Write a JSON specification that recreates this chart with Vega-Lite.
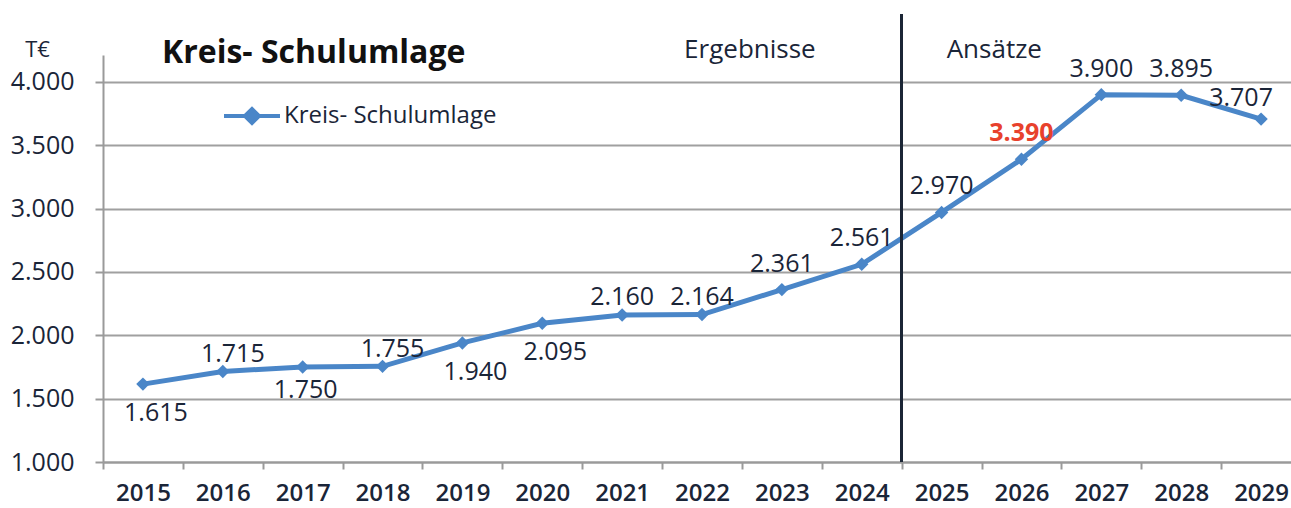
{
  "$schema": "https://vega.github.io/schema/vega-lite/v6.json",
  "width": 1188,
  "height": 407,
  "autosize": {"type": "none"},
  "padding": {"left": 103, "top": 55, "right": 0, "bottom": 46},
  "background": "white",
  "config": {
    "locale": {"number": {"decimal": ",", "thousands": ".", "grouping": [3], "currency": ["", " €"]}},
    "view": {"stroke": null},
    "font": "Open Sans"
  },
  "title": {"text": "Kreis- Schulumlage", "anchor": "start", "frame": "group", "orient": "top", "fontSize": 32, "fontWeight": "bold", "font": "Open Sans", "color": "#111111", "dx": 59, "dy": 72, "baseline": "middle", "offset": 0},
  "data": {"values": [
    {"year": 2015, "value": 1615},
    {"year": 2016, "value": 1715},
    {"year": 2017, "value": 1750},
    {"year": 2018, "value": 1755},
    {"year": 2019, "value": 1940},
    {"year": 2020, "value": 2095},
    {"year": 2021, "value": 2160},
    {"year": 2022, "value": 2164},
    {"year": 2023, "value": 2361},
    {"year": 2024, "value": 2561},
    {"year": 2025, "value": 2970},
    {"year": 2026, "value": 3390},
    {"year": 2027, "value": 3900},
    {"year": 2028, "value": 3895},
    {"year": 2029, "value": 3707}
  ]},
  "layer": [
    {
      "mark": {"type": "line", "strokeWidth": 5, "point": {"shape": "diamond", "size": 180, "filled": true}},
      "encoding": {
        "x": {"field": "year", "type": "ordinal",
          "scale": {"type": "band", "paddingInner": 0, "paddingOuter": 0, "range": [0, 1198]},
          "axis": {"title": null, "tickBand": "extent", "labelAngle": 0, "domainColor": "#9a9a9a", "domainWidth": 2, "tickColor": "#9a9a9a", "tickWidth": 2, "tickSize": 7, "labelFontSize": 24, "labelFontWeight": 600, "labelColor": "#1a2538", "labelPadding": 12, "labelFont": "Open Sans", "grid": false}},
        "y": {"field": "value", "type": "quantitative",
          "scale": {"domain": [1000, 4213], "nice": false, "zero": false},
          "axis": {"values": [1000, 1500, 2000, 2500, 3000, 3500, 4000], "format": ",.0f", "title": "T€", "titleAngle": 0, "titleX": -66, "titleY": -6, "titleFontSize": 22, "titleFontWeight": "normal", "titleColor": "#1a2538", "titleFont": "Open Sans", "titleAlign": "center", "titleBaseline": "middle", "grid": true, "gridColor": "#a0a0a0", "gridWidth": 2, "domainColor": "#9a9a9a", "domainWidth": 2, "tickColor": "#9a9a9a", "tickWidth": 2, "tickSize": 8, "labelFontSize": 25, "labelPadding": 21, "labelColor": "#1a2538", "labelFont": "Open Sans"}},
        "color": {"datum": "Kreis- Schulumlage", "type": "nominal", "scale": {"range": ["#4a86c8"]},
          "legend": {"title": null, "orient": "none", "legendX": 119, "legendY": 31, "padding": 0, "symbolType": "M-1,0H1M-0.25,0L0,-0.25L0.25,0L0,0.25Z", "symbolSize": 3136, "symbolStrokeWidth": 4, "symbolStrokeColor": "#4a86c8", "symbolFillColor": "#4a86c8", "labelFontSize": 24, "labelFont": "Open Sans", "labelColor": "#1a2538", "labelOffset": 2, "labelLimit": 400}}
      }
    },
    {
      "mark": {"type": "rule", "color": "#1c2636", "strokeWidth": 2.5},
      "encoding": {"x": {"datum": 2025, "type": "ordinal", "bandPosition": 0}, "y": {"datum": 1000, "type": "quantitative"}, "y2": {"datum": 4536}}
    },
    {
      "transform": [{"filter": {"field": "year", "oneOf": [2015, 2019, 2020]}}],
      "mark": {"type": "text", "fontSize": 25, "color": "#1a2538", "dx": 13, "dy": 29, "baseline": "middle"},
      "encoding": {"x": {"field": "year", "type": "ordinal"}, "y": {"field": "value", "type": "quantitative"}, "text": {"field": "value", "type": "quantitative", "format": ",.0f"}}
    },
    {
      "transform": [{"filter": {"field": "year", "oneOf": [2017]}}],
      "mark": {"type": "text", "fontSize": 25, "color": "#1a2538", "dx": 3, "dy": 23, "baseline": "middle"},
      "encoding": {"x": {"field": "year", "type": "ordinal"}, "y": {"field": "value", "type": "quantitative"}, "text": {"field": "value", "type": "quantitative", "format": ",.0f"}}
    },
    {
      "transform": [{"filter": {"field": "year", "oneOf": [2016, 2018]}}],
      "mark": {"type": "text", "fontSize": 25, "color": "#1a2538", "dx": 10, "dy": -17, "baseline": "middle"},
      "encoding": {"x": {"field": "year", "type": "ordinal"}, "y": {"field": "value", "type": "quantitative"}, "text": {"field": "value", "type": "quantitative", "format": ",.0f"}}
    },
    {
      "transform": [{"filter": {"field": "year", "oneOf": [2021, 2022]}}],
      "mark": {"type": "text", "fontSize": 25, "color": "#1a2538", "dx": 0, "dy": -18, "baseline": "middle"},
      "encoding": {"x": {"field": "year", "type": "ordinal"}, "y": {"field": "value", "type": "quantitative"}, "text": {"field": "value", "type": "quantitative", "format": ",.0f"}}
    },
    {
      "transform": [{"filter": {"field": "year", "oneOf": [2023, 2024, 2025, 2027, 2028]}}],
      "mark": {"type": "text", "fontSize": 25, "color": "#1a2538", "dx": 0, "dy": -26, "baseline": "middle"},
      "encoding": {"x": {"field": "year", "type": "ordinal"}, "y": {"field": "value", "type": "quantitative"}, "text": {"field": "value", "type": "quantitative", "format": ",.0f"}}
    },
    {
      "transform": [{"filter": {"field": "year", "oneOf": [2026]}}],
      "mark": {"type": "text", "fontSize": 25, "fontWeight": "bold", "color": "#e8412c", "dx": 0, "dy": -26, "baseline": "middle"},
      "encoding": {"x": {"field": "year", "type": "ordinal"}, "y": {"field": "value", "type": "quantitative"}, "text": {"field": "value", "type": "quantitative", "format": ",.0f"}}
    },
    {
      "transform": [{"filter": {"field": "year", "oneOf": [2029]}}],
      "mark": {"type": "text", "fontSize": 25, "color": "#1a2538", "dx": -20, "dy": -21, "baseline": "middle"},
      "encoding": {"x": {"field": "year", "type": "ordinal"}, "y": {"field": "value", "type": "quantitative"}, "text": {"field": "value", "type": "quantitative", "format": ",.0f"}}
    },
    {
      "data": {"values": [{"label": "Ergebnisse"}]},
      "mark": {"type": "text", "fontSize": 26, "color": "#1a2538", "align": "center", "baseline": "middle"},
      "encoding": {"x": {"datum": 2023, "type": "ordinal", "bandPosition": 0.1}, "y": {"datum": 4252, "type": "quantitative"}, "text": {"field": "label", "type": "nominal"}}
    },
    {
      "data": {"values": [{"label": "Ansätze"}]},
      "mark": {"type": "text", "fontSize": 26, "color": "#1a2538", "align": "center", "baseline": "middle"},
      "encoding": {"x": {"datum": 2026, "type": "ordinal", "bandPosition": 0.16}, "y": {"datum": 4252, "type": "quantitative"}, "text": {"field": "label", "type": "nominal"}}
    }
  ]
}
